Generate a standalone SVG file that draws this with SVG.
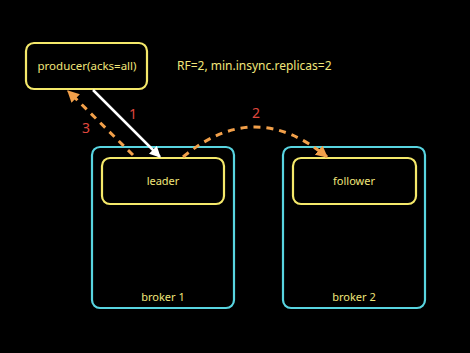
<svg xmlns="http://www.w3.org/2000/svg" width="470" height="353" viewBox="0 0 470 353">
<style>
.bg{fill:#000}
.box{fill:none;stroke:#f4e86a;stroke-width:2.2}
.broker{fill:none;stroke:#58d4e0;stroke-width:2.2}
.t{font-family:"Noto Sans","Liberation Sans",sans-serif;font-size:11px;fill:#f1e67a;text-anchor:middle}
.num{font-family:"Noto Sans","Liberation Sans",sans-serif;font-size:14px;fill:#e0483e;text-anchor:middle}
.dash{fill:none;stroke:#f2a04a;stroke-width:3;stroke-dasharray:7 6}
.solid{fill:none;stroke:#ffffff;stroke-width:2.5}
</style>
<defs>
<marker id="ao" viewBox="0 0 10 10" refX="9" refY="5" markerWidth="4" markerHeight="4" orient="auto" markerUnits="strokeWidth">
<path d="M0,0 L10,5 L0,10 z" fill="#f2a04a"/>
</marker>
<marker id="aw" viewBox="0 0 10 10" refX="9" refY="5" markerWidth="4.5" markerHeight="4.5" orient="auto" markerUnits="strokeWidth">
<path d="M0,0 L10,5 L0,10 z" fill="#ffffff"/>
</marker>
</defs>
<rect class="bg" x="0" y="0" width="470" height="353"/>
<g id="producer">
<rect class="box" x="26" y="43" width="121" height="46" rx="8"/>
<text class="t" x="87" y="70" style="font-size:11.5px">producer(acks=all)</text>
</g>
<g id="note">
<text class="t" x="177" y="70" style="text-anchor:start;font-size:12px">RF=2, min.insync.replicas=2</text>
</g>
<g id="broker1">
<rect class="broker" x="92" y="147" width="142" height="161" rx="8"/>
<text class="t" x="163" y="301">broker 1</text>
</g>
<g id="leader">
<rect class="box" x="102" y="158" width="122" height="46" rx="8"/>
<text class="t" x="163" y="185">leader</text>
</g>
<g id="broker2">
<rect class="broker" x="283" y="147" width="142" height="161" rx="8"/>
<text class="t" x="354" y="301">broker 2</text>
</g>
<g id="follower">
<rect class="box" x="293" y="158" width="123" height="46" rx="8"/>
<text class="t" x="354" y="185">follower</text>
</g>
<g id="connectors">
<path class="solid" d="M93,90 L160,157" marker-end="url(#aw)"/>
<path class="dash" d="M133,155 L68,91" marker-end="url(#ao)"/>
<path class="dash" d="M183,157 Q255,97 327,157" marker-end="url(#ao)"/>
<text class="num" x="133" y="119">1</text>
<text class="num" x="86" y="133">3</text>
<text class="num" x="256" y="118">2</text>
</g>
</svg>
